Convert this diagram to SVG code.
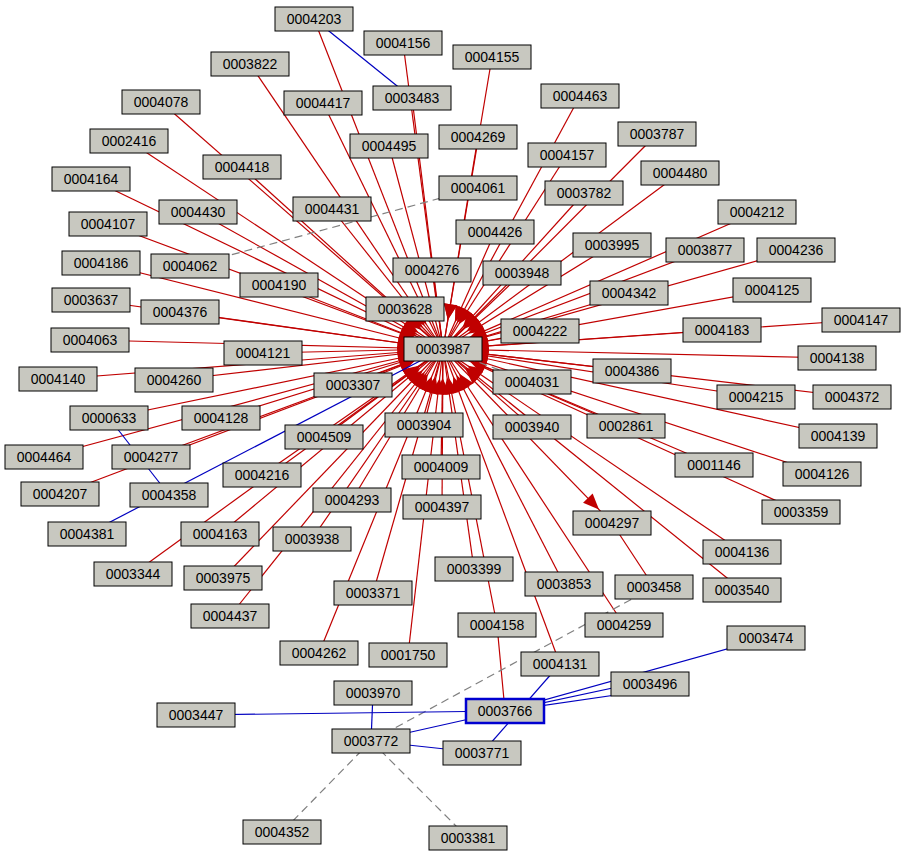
<svg xmlns="http://www.w3.org/2000/svg" width="907" height="858" viewBox="0 0 907 858">
<style>
.node rect{fill:#c8c8c0;stroke:#000;stroke-width:1}
.node text{font-family:"Liberation Sans",Arial,sans-serif;font-size:14px;text-anchor:middle;fill:#000}
.r{stroke:#c00000;stroke-width:1.2;fill:none}
.ra{stroke:#c00000;stroke-width:1.2;fill:none;marker-end:url(#ah)}
.b{stroke:#0000c0;stroke-width:1.2;fill:none}
.d{stroke:#808080;stroke-width:1.2;fill:none;stroke-dasharray:8,5}
</style>
<defs>
<marker id="ah" markerUnits="userSpaceOnUse" markerWidth="80" markerHeight="30" refX="22" refY="0" viewBox="-20 -10 60 20" orient="auto" overflow="visible"><path d="M0,0 L-12,-5 L-12,5 Z" fill="#c00000"/></marker>
<marker id="ah2" markerUnits="userSpaceOnUse" markerWidth="80" markerHeight="30" refX="14" refY="0" viewBox="-20 -10 60 20" orient="auto" overflow="visible"><path d="M0,0 L-12,-5 L-12,5 Z" fill="#c00000"/></marker>
</defs>
<rect width="907" height="858" fill="#fff"/>
<g id="edges">
<line class="ra" x1="314" y1="19" x2="443" y2="349"/>
<line class="ra" x1="403" y1="43" x2="443" y2="349"/>
<line class="ra" x1="492" y1="57" x2="443" y2="349"/>
<line class="ra" x1="250" y1="64" x2="443" y2="349"/>
<line class="ra" x1="161" y1="102" x2="443" y2="349"/>
<line class="ra" x1="323" y1="103" x2="443" y2="349"/>
<line class="ra" x1="412" y1="98" x2="443" y2="349"/>
<line class="ra" x1="580" y1="96" x2="443" y2="349"/>
<line class="ra" x1="657" y1="134" x2="443" y2="349"/>
<line class="ra" x1="129" y1="141" x2="443" y2="349"/>
<line class="ra" x1="478" y1="137" x2="443" y2="349"/>
<line class="ra" x1="389" y1="146" x2="443" y2="349"/>
<line class="ra" x1="567" y1="155" x2="443" y2="349"/>
<line class="ra" x1="242" y1="167" x2="443" y2="349"/>
<line class="ra" x1="680" y1="173" x2="443" y2="349"/>
<line class="ra" x1="91" y1="179" x2="443" y2="349"/>
<line class="ra" x1="584" y1="193" x2="443" y2="349"/>
<line class="ra" x1="198" y1="212" x2="443" y2="349"/>
<line class="ra" x1="332" y1="209" x2="443" y2="349"/>
<line class="ra" x1="757" y1="212" x2="443" y2="349"/>
<line class="ra" x1="108" y1="224" x2="443" y2="349"/>
<line class="ra" x1="495" y1="232" x2="443" y2="349"/>
<line class="ra" x1="612" y1="245" x2="443" y2="349"/>
<line class="ra" x1="705" y1="250" x2="443" y2="349"/>
<line class="ra" x1="796" y1="250" x2="443" y2="349"/>
<line class="ra" x1="101" y1="263" x2="443" y2="349"/>
<line class="ra" x1="432" y1="270" x2="443" y2="349"/>
<line class="ra" x1="522" y1="273" x2="443" y2="349"/>
<line class="ra" x1="279" y1="285" x2="443" y2="349"/>
<line class="ra" x1="772" y1="290" x2="443" y2="349"/>
<line class="ra" x1="629" y1="293" x2="443" y2="349"/>
<line class="ra" x1="91" y1="300" x2="443" y2="349"/>
<line class="ra" x1="180" y1="312" x2="443" y2="349"/>
<line class="ra" x1="405" y1="309" x2="443" y2="349"/>
<line class="ra" x1="861" y1="320" x2="443" y2="349"/>
<line class="ra" x1="540" y1="331" x2="443" y2="349"/>
<line class="ra" x1="722" y1="330" x2="443" y2="349"/>
<line class="ra" x1="90" y1="340" x2="443" y2="349"/>
<line class="ra" x1="263" y1="353" x2="443" y2="349"/>
<line class="ra" x1="837" y1="358" x2="443" y2="349"/>
<line class="ra" x1="58" y1="379" x2="443" y2="349"/>
<line class="ra" x1="174" y1="380" x2="443" y2="349"/>
<line class="ra" x1="353" y1="385" x2="443" y2="349"/>
<line class="ra" x1="632" y1="371" x2="443" y2="349"/>
<line class="ra" x1="756" y1="397" x2="443" y2="349"/>
<line class="ra" x1="852" y1="397" x2="443" y2="349"/>
<line class="ra" x1="109" y1="418" x2="443" y2="349"/>
<line class="ra" x1="221" y1="418" x2="443" y2="349"/>
<line class="ra" x1="424" y1="425" x2="443" y2="349"/>
<line class="ra" x1="532" y1="427" x2="443" y2="349"/>
<line class="ra" x1="626" y1="426" x2="443" y2="349"/>
<line class="ra" x1="324" y1="437" x2="443" y2="349"/>
<line class="ra" x1="838" y1="436" x2="443" y2="349"/>
<line class="ra" x1="44" y1="457" x2="443" y2="349"/>
<line class="ra" x1="151" y1="457" x2="443" y2="349"/>
<line class="ra" x1="441" y1="467" x2="443" y2="349"/>
<line class="ra" x1="714" y1="465" x2="443" y2="349"/>
<line class="ra" x1="822" y1="474" x2="443" y2="349"/>
<line class="ra" x1="60" y1="494" x2="443" y2="349"/>
<line class="ra" x1="262" y1="475" x2="443" y2="349"/>
<line class="ra" x1="352" y1="500" x2="443" y2="349"/>
<line class="ra" x1="442" y1="507" x2="443" y2="349"/>
<line class="ra" x1="801" y1="512" x2="443" y2="349"/>
<line class="ra" x1="220" y1="534" x2="443" y2="349"/>
<line class="ra" x1="312" y1="539" x2="443" y2="349"/>
<line class="ra" x1="742" y1="552" x2="443" y2="349"/>
<line class="ra" x1="133" y1="574" x2="443" y2="349"/>
<line class="ra" x1="223" y1="578" x2="443" y2="349"/>
<line class="ra" x1="474" y1="569" x2="443" y2="349"/>
<line class="ra" x1="564" y1="584" x2="443" y2="349"/>
<line class="ra" x1="742" y1="590" x2="443" y2="349"/>
<line class="ra" x1="230" y1="616" x2="443" y2="349"/>
<line class="ra" x1="373" y1="593" x2="443" y2="349"/>
<line class="ra" x1="497" y1="625" x2="443" y2="349"/>
<line class="ra" x1="624" y1="625" x2="443" y2="349"/>
<line class="ra" x1="319" y1="653" x2="443" y2="349"/>
<line class="ra" x1="408" y1="655" x2="443" y2="349"/>
<line class="ra" x1="560" y1="664" x2="443" y2="349"/>
<line class="r" x1="443" y1="349" x2="612" y2="523" style="marker-end:url(#ah2)"/>
<line class="r" x1="612" y1="523" x2="654" y2="587"/>
<line class="r" x1="497" y1="625" x2="505" y2="711"/>
<line class="d" x1="478" y1="188" x2="190" y2="266"/>
<line class="d" x1="443" y1="349" x2="532" y2="382"/>
<line class="d" x1="654" y1="587" x2="371" y2="741"/>
<line class="d" x1="371" y1="741" x2="282" y2="832"/>
<line class="d" x1="371" y1="741" x2="468" y2="838"/>
<line class="b" x1="314" y1="19" x2="412" y2="98"/>
<line class="b" x1="109" y1="418" x2="169" y2="495"/>
<line class="b" x1="87" y1="534" x2="443" y2="349"/>
<line class="b" x1="196" y1="715" x2="505" y2="711"/>
<line class="b" x1="505" y1="711" x2="650" y2="680"/>
<line class="b" x1="505" y1="711" x2="650" y2="690"/>
<line class="b" x1="505" y1="711" x2="766" y2="638"/>
<line class="b" x1="482" y1="753" x2="560" y2="664"/>
<line class="b" x1="371" y1="741" x2="505" y2="711"/>
<line class="b" x1="371" y1="741" x2="482" y2="753"/>
<line class="b" x1="373" y1="693" x2="371" y2="741"/>
</g>
<g id="nodes">
<g id="n0004203" class="node" transform="translate(314,19)"><rect x="-39" y="-12" width="78" height="24"/><text y="5">0004203</text></g>
<g id="n0004156" class="node" transform="translate(403,43)"><rect x="-39" y="-12" width="78" height="24"/><text y="5">0004156</text></g>
<g id="n0004155" class="node" transform="translate(492,57)"><rect x="-39" y="-12" width="78" height="24"/><text y="5">0004155</text></g>
<g id="n0003822" class="node" transform="translate(250,64)"><rect x="-39" y="-12" width="78" height="24"/><text y="5">0003822</text></g>
<g id="n0004078" class="node" transform="translate(161,102)"><rect x="-39" y="-12" width="78" height="24"/><text y="5">0004078</text></g>
<g id="n0004417" class="node" transform="translate(323,103)"><rect x="-39" y="-12" width="78" height="24"/><text y="5">0004417</text></g>
<g id="n0003483" class="node" transform="translate(412,98)"><rect x="-39" y="-12" width="78" height="24"/><text y="5">0003483</text></g>
<g id="n0004463" class="node" transform="translate(580,96)"><rect x="-39" y="-12" width="78" height="24"/><text y="5">0004463</text></g>
<g id="n0003787" class="node" transform="translate(657,134)"><rect x="-39" y="-12" width="78" height="24"/><text y="5">0003787</text></g>
<g id="n0002416" class="node" transform="translate(129,141)"><rect x="-39" y="-12" width="78" height="24"/><text y="5">0002416</text></g>
<g id="n0004269" class="node" transform="translate(478,137)"><rect x="-39" y="-12" width="78" height="24"/><text y="5">0004269</text></g>
<g id="n0004495" class="node" transform="translate(389,146)"><rect x="-39" y="-12" width="78" height="24"/><text y="5">0004495</text></g>
<g id="n0004157" class="node" transform="translate(567,155)"><rect x="-39" y="-12" width="78" height="24"/><text y="5">0004157</text></g>
<g id="n0004418" class="node" transform="translate(242,167)"><rect x="-39" y="-12" width="78" height="24"/><text y="5">0004418</text></g>
<g id="n0004480" class="node" transform="translate(680,173)"><rect x="-39" y="-12" width="78" height="24"/><text y="5">0004480</text></g>
<g id="n0004164" class="node" transform="translate(91,179)"><rect x="-39" y="-12" width="78" height="24"/><text y="5">0004164</text></g>
<g id="n0004061" class="node" transform="translate(478,188)"><rect x="-39" y="-12" width="78" height="24"/><text y="5">0004061</text></g>
<g id="n0003782" class="node" transform="translate(584,193)"><rect x="-39" y="-12" width="78" height="24"/><text y="5">0003782</text></g>
<g id="n0004430" class="node" transform="translate(198,212)"><rect x="-39" y="-12" width="78" height="24"/><text y="5">0004430</text></g>
<g id="n0004431" class="node" transform="translate(332,209)"><rect x="-39" y="-12" width="78" height="24"/><text y="5">0004431</text></g>
<g id="n0004212" class="node" transform="translate(757,212)"><rect x="-39" y="-12" width="78" height="24"/><text y="5">0004212</text></g>
<g id="n0004107" class="node" transform="translate(108,224)"><rect x="-39" y="-12" width="78" height="24"/><text y="5">0004107</text></g>
<g id="n0004426" class="node" transform="translate(495,232)"><rect x="-39" y="-12" width="78" height="24"/><text y="5">0004426</text></g>
<g id="n0003995" class="node" transform="translate(612,245)"><rect x="-39" y="-12" width="78" height="24"/><text y="5">0003995</text></g>
<g id="n0003877" class="node" transform="translate(705,250)"><rect x="-39" y="-12" width="78" height="24"/><text y="5">0003877</text></g>
<g id="n0004236" class="node" transform="translate(796,250)"><rect x="-39" y="-12" width="78" height="24"/><text y="5">0004236</text></g>
<g id="n0004186" class="node" transform="translate(101,263)"><rect x="-39" y="-12" width="78" height="24"/><text y="5">0004186</text></g>
<g id="n0004062" class="node" transform="translate(190,266)"><rect x="-39" y="-12" width="78" height="24"/><text y="5">0004062</text></g>
<g id="n0004276" class="node" transform="translate(432,270)"><rect x="-39" y="-12" width="78" height="24"/><text y="5">0004276</text></g>
<g id="n0003948" class="node" transform="translate(522,273)"><rect x="-39" y="-12" width="78" height="24"/><text y="5">0003948</text></g>
<g id="n0004190" class="node" transform="translate(279,285)"><rect x="-39" y="-12" width="78" height="24"/><text y="5">0004190</text></g>
<g id="n0004125" class="node" transform="translate(772,290)"><rect x="-39" y="-12" width="78" height="24"/><text y="5">0004125</text></g>
<g id="n0004342" class="node" transform="translate(629,293)"><rect x="-39" y="-12" width="78" height="24"/><text y="5">0004342</text></g>
<g id="n0003637" class="node" transform="translate(91,300)"><rect x="-39" y="-12" width="78" height="24"/><text y="5">0003637</text></g>
<g id="n0004376" class="node" transform="translate(180,312)"><rect x="-39" y="-12" width="78" height="24"/><text y="5">0004376</text></g>
<g id="n0003628" class="node" transform="translate(405,309)"><rect x="-39" y="-12" width="78" height="24"/><text y="5">0003628</text></g>
<g id="n0004147" class="node" transform="translate(861,320)"><rect x="-39" y="-12" width="78" height="24"/><text y="5">0004147</text></g>
<g id="n0004222" class="node" transform="translate(540,331)"><rect x="-39" y="-12" width="78" height="24"/><text y="5">0004222</text></g>
<g id="n0004183" class="node" transform="translate(722,330)"><rect x="-39" y="-12" width="78" height="24"/><text y="5">0004183</text></g>
<g id="n0004063" class="node" transform="translate(90,340)"><rect x="-39" y="-12" width="78" height="24"/><text y="5">0004063</text></g>
<g id="n0004121" class="node" transform="translate(263,353)"><rect x="-39" y="-12" width="78" height="24"/><text y="5">0004121</text></g>
<g id="n0004138" class="node" transform="translate(837,358)"><rect x="-39" y="-12" width="78" height="24"/><text y="5">0004138</text></g>
<g id="n0004140" class="node" transform="translate(58,379)"><rect x="-39" y="-12" width="78" height="24"/><text y="5">0004140</text></g>
<g id="n0004260" class="node" transform="translate(174,380)"><rect x="-39" y="-12" width="78" height="24"/><text y="5">0004260</text></g>
<g id="n0003307" class="node" transform="translate(353,385)"><rect x="-39" y="-12" width="78" height="24"/><text y="5">0003307</text></g>
<g id="n0004031" class="node" transform="translate(532,382)"><rect x="-39" y="-12" width="78" height="24"/><text y="5">0004031</text></g>
<g id="n0004386" class="node" transform="translate(632,371)"><rect x="-39" y="-12" width="78" height="24"/><text y="5">0004386</text></g>
<g id="n0004215" class="node" transform="translate(756,397)"><rect x="-39" y="-12" width="78" height="24"/><text y="5">0004215</text></g>
<g id="n0004372" class="node" transform="translate(852,397)"><rect x="-39" y="-12" width="78" height="24"/><text y="5">0004372</text></g>
<g id="n0000633" class="node" transform="translate(109,418)"><rect x="-39" y="-12" width="78" height="24"/><text y="5">0000633</text></g>
<g id="n0004128" class="node" transform="translate(221,418)"><rect x="-39" y="-12" width="78" height="24"/><text y="5">0004128</text></g>
<g id="n0003904" class="node" transform="translate(424,425)"><rect x="-39" y="-12" width="78" height="24"/><text y="5">0003904</text></g>
<g id="n0003940" class="node" transform="translate(532,427)"><rect x="-39" y="-12" width="78" height="24"/><text y="5">0003940</text></g>
<g id="n0002861" class="node" transform="translate(626,426)"><rect x="-39" y="-12" width="78" height="24"/><text y="5">0002861</text></g>
<g id="n0004509" class="node" transform="translate(324,437)"><rect x="-39" y="-12" width="78" height="24"/><text y="5">0004509</text></g>
<g id="n0004139" class="node" transform="translate(838,436)"><rect x="-39" y="-12" width="78" height="24"/><text y="5">0004139</text></g>
<g id="n0004464" class="node" transform="translate(44,457)"><rect x="-39" y="-12" width="78" height="24"/><text y="5">0004464</text></g>
<g id="n0004277" class="node" transform="translate(151,457)"><rect x="-39" y="-12" width="78" height="24"/><text y="5">0004277</text></g>
<g id="n0004009" class="node" transform="translate(441,467)"><rect x="-39" y="-12" width="78" height="24"/><text y="5">0004009</text></g>
<g id="n0001146" class="node" transform="translate(714,465)"><rect x="-39" y="-12" width="78" height="24"/><text y="5">0001146</text></g>
<g id="n0004126" class="node" transform="translate(822,474)"><rect x="-39" y="-12" width="78" height="24"/><text y="5">0004126</text></g>
<g id="n0004207" class="node" transform="translate(60,494)"><rect x="-39" y="-12" width="78" height="24"/><text y="5">0004207</text></g>
<g id="n0004358" class="node" transform="translate(169,495)"><rect x="-39" y="-12" width="78" height="24"/><text y="5">0004358</text></g>
<g id="n0004216" class="node" transform="translate(262,475)"><rect x="-39" y="-12" width="78" height="24"/><text y="5">0004216</text></g>
<g id="n0004293" class="node" transform="translate(352,500)"><rect x="-39" y="-12" width="78" height="24"/><text y="5">0004293</text></g>
<g id="n0004397" class="node" transform="translate(442,507)"><rect x="-39" y="-12" width="78" height="24"/><text y="5">0004397</text></g>
<g id="n0003359" class="node" transform="translate(801,512)"><rect x="-39" y="-12" width="78" height="24"/><text y="5">0003359</text></g>
<g id="n0004381" class="node" transform="translate(87,534)"><rect x="-39" y="-12" width="78" height="24"/><text y="5">0004381</text></g>
<g id="n0004163" class="node" transform="translate(220,534)"><rect x="-39" y="-12" width="78" height="24"/><text y="5">0004163</text></g>
<g id="n0003938" class="node" transform="translate(312,539)"><rect x="-39" y="-12" width="78" height="24"/><text y="5">0003938</text></g>
<g id="n0004297" class="node" transform="translate(612,523)"><rect x="-39" y="-12" width="78" height="24"/><text y="5">0004297</text></g>
<g id="n0004136" class="node" transform="translate(742,552)"><rect x="-39" y="-12" width="78" height="24"/><text y="5">0004136</text></g>
<g id="n0003344" class="node" transform="translate(133,574)"><rect x="-39" y="-12" width="78" height="24"/><text y="5">0003344</text></g>
<g id="n0003975" class="node" transform="translate(223,578)"><rect x="-39" y="-12" width="78" height="24"/><text y="5">0003975</text></g>
<g id="n0003399" class="node" transform="translate(474,569)"><rect x="-39" y="-12" width="78" height="24"/><text y="5">0003399</text></g>
<g id="n0003853" class="node" transform="translate(564,584)"><rect x="-39" y="-12" width="78" height="24"/><text y="5">0003853</text></g>
<g id="n0003458" class="node" transform="translate(654,587)"><rect x="-39" y="-12" width="78" height="24"/><text y="5">0003458</text></g>
<g id="n0003540" class="node" transform="translate(742,590)"><rect x="-39" y="-12" width="78" height="24"/><text y="5">0003540</text></g>
<g id="n0004437" class="node" transform="translate(230,616)"><rect x="-39" y="-12" width="78" height="24"/><text y="5">0004437</text></g>
<g id="n0003371" class="node" transform="translate(373,593)"><rect x="-39" y="-12" width="78" height="24"/><text y="5">0003371</text></g>
<g id="n0004158" class="node" transform="translate(497,625)"><rect x="-39" y="-12" width="78" height="24"/><text y="5">0004158</text></g>
<g id="n0004259" class="node" transform="translate(624,625)"><rect x="-39" y="-12" width="78" height="24"/><text y="5">0004259</text></g>
<g id="n0003474" class="node" transform="translate(766,638)"><rect x="-39" y="-12" width="78" height="24"/><text y="5">0003474</text></g>
<g id="n0004262" class="node" transform="translate(319,653)"><rect x="-39" y="-12" width="78" height="24"/><text y="5">0004262</text></g>
<g id="n0001750" class="node" transform="translate(408,655)"><rect x="-39" y="-12" width="78" height="24"/><text y="5">0001750</text></g>
<g id="n0004131" class="node" transform="translate(560,664)"><rect x="-39" y="-12" width="78" height="24"/><text y="5">0004131</text></g>
<g id="n0003496" class="node" transform="translate(650,684)"><rect x="-39" y="-12" width="78" height="24"/><text y="5">0003496</text></g>
<g id="n0003970" class="node" transform="translate(373,693)"><rect x="-39" y="-12" width="78" height="24"/><text y="5">0003970</text></g>
<g id="n0003447" class="node" transform="translate(196,715)"><rect x="-39" y="-12" width="78" height="24"/><text y="5">0003447</text></g>
<g id="n0003766" class="node" transform="translate(505,711)"><rect x="-39" y="-12" width="78" height="24" style="stroke:#0000d0;stroke-width:2.5"/><text y="5">0003766</text></g>
<g id="n0003772" class="node" transform="translate(371,741)"><rect x="-39" y="-12" width="78" height="24"/><text y="5">0003772</text></g>
<g id="n0003771" class="node" transform="translate(482,753)"><rect x="-39" y="-12" width="78" height="24"/><text y="5">0003771</text></g>
<g id="n0004352" class="node" transform="translate(282,832)"><rect x="-39" y="-12" width="78" height="24"/><text y="5">0004352</text></g>
<g id="n0003381" class="node" transform="translate(468,838)"><rect x="-39" y="-12" width="78" height="24"/><text y="5">0003381</text></g>
<g id="n0003987" class="node" transform="translate(443,349)"><rect x="-39" y="-12" width="78" height="24"/><text y="5">0003987</text></g>
</g>
</svg>
